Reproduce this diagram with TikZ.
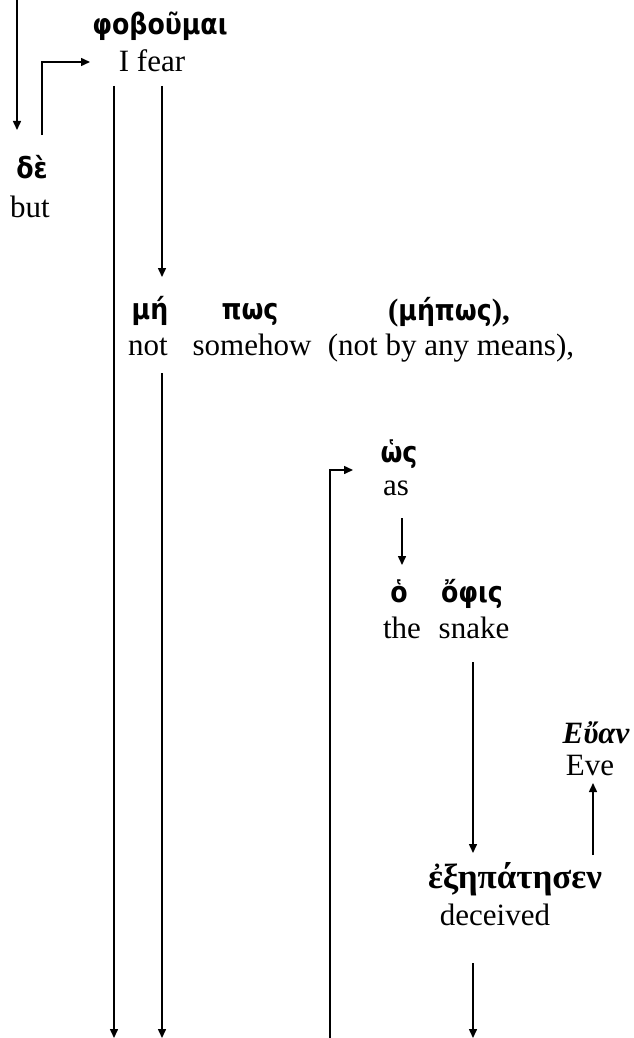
\documentclass[tikz,border=0pt]{standalone}
\usepackage{fontspec}
\setmainfont{Liberation Serif}
\newfontfamily\grk{DejaVu Sans}[FakeStretch=0.87]
\usetikzlibrary{arrows.meta}
\tikzset{
  gloss/.style={anchor=base, inner sep=0pt, font=\fontsize{31}{36}\selectfont},
  greek/.style={anchor=base, inner sep=0pt, font=\fontsize{29}{34}\selectfont\grk\bfseries},
  greekitalic/.style={anchor=base, inner sep=0pt, font=\fontsize{31}{36}\selectfont\bfseries\itshape},
  greekserif/.style={anchor=base, inner sep=0pt, font=\fontsize{35}{40}\selectfont\bfseries},
  link/.style={line width=1.5pt, -{Triangle[length=9pt,width=8pt]}}
}
\begin{document}
\begin{tikzpicture}[x=1pt,y=-1pt]
\useasboundingbox (0,0) rectangle (634,1038);

% words and glosses
\node[greek] (fob) at (160,35) {φοβοῦμαι};
\node[gloss] (fear) at (152,72) {I fear};
\node[greek] (de) at (32,178) {δὲ};
\node[gloss] (but) at (30,217) {but};
\node[greek] (me) at (150,319) {μή};
\node[gloss] (not) at (148,355) {not};
\node[greek] (pos) at (250,319) {πως};
\node[gloss] (somehow) at (252,355) {somehow};
\node[anchor=base, inner sep=0pt] (mepos) at (449,320)
  {{\fontsize{31}{36}\selectfont\bfseries (}{\fontsize{29}{34}\selectfont\grk\bfseries μήπως}{\fontsize{31}{36}\selectfont\bfseries ),}};
\node[gloss] (means) at (451,355) {(not by any means),};
\node[greek] (hos) at (399,462) {ὡς};
\node[gloss] (as) at (396,495) {as};
\node[greek] (ho) at (399,602) {ὁ};
\node[gloss] (the) at (402,638) {the};
\node[greek] (ophis) at (472,602) {ὄφις};
\node[gloss] (snake) at (474,638) {snake};
\node[greekitalic] (euan) at (596,743) {Εὔαν};
\node[gloss] (eve) at (590,775) {Eve};
\node[greekserif] (exep) at (515,888) {ἐξηπάτησεν};
\node[gloss] (deceived) at (495,925) {deceived};

% connector end points
\coordinate (inTop) at (17,0);
\coordinate (toDe) at (17,130);
\coordinate (deUp) at (42,135);
\coordinate (deBend) at (42,62);
\coordinate (toFear) at (90,62);
\coordinate (fearA) at (114,86);
\coordinate (outA) at (114,1038);
\coordinate (fearB) at (162,86);
\coordinate (toMe) at (162,277);
\coordinate (notDown) at (162,373);
\coordinate (outB) at (162,1038);
\coordinate (inBottom) at (330,1038);
\coordinate (hosBend) at (330,470);
\coordinate (toHos) at (353,470);
\coordinate (asDown) at (402,518);
\coordinate (toHo) at (402,565);
\coordinate (snakeDown) at (473,662);
\coordinate (toExep) at (473,853);
\coordinate (exepUp) at (593,855);
\coordinate (toEve) at (593,783);
\coordinate (decDown) at (473,963);
\coordinate (outC) at (473,1038);

% connectors
\draw[link] (inTop) -- (toDe);
\draw[link] (deUp) -- (deBend) -- (toFear);
\draw[link] (fearA) -- (outA);
\draw[link] (fearB) -- (toMe);
\draw[link] (notDown) -- (outB);
\draw[link] (inBottom) -- (hosBend) -- (toHos);
\draw[link] (asDown) -- (toHo);
\draw[link] (snakeDown) -- (toExep);
\draw[link] (exepUp) -- (toEve);
\draw[link] (decDown) -- (outC);
\end{tikzpicture}
\end{document}
